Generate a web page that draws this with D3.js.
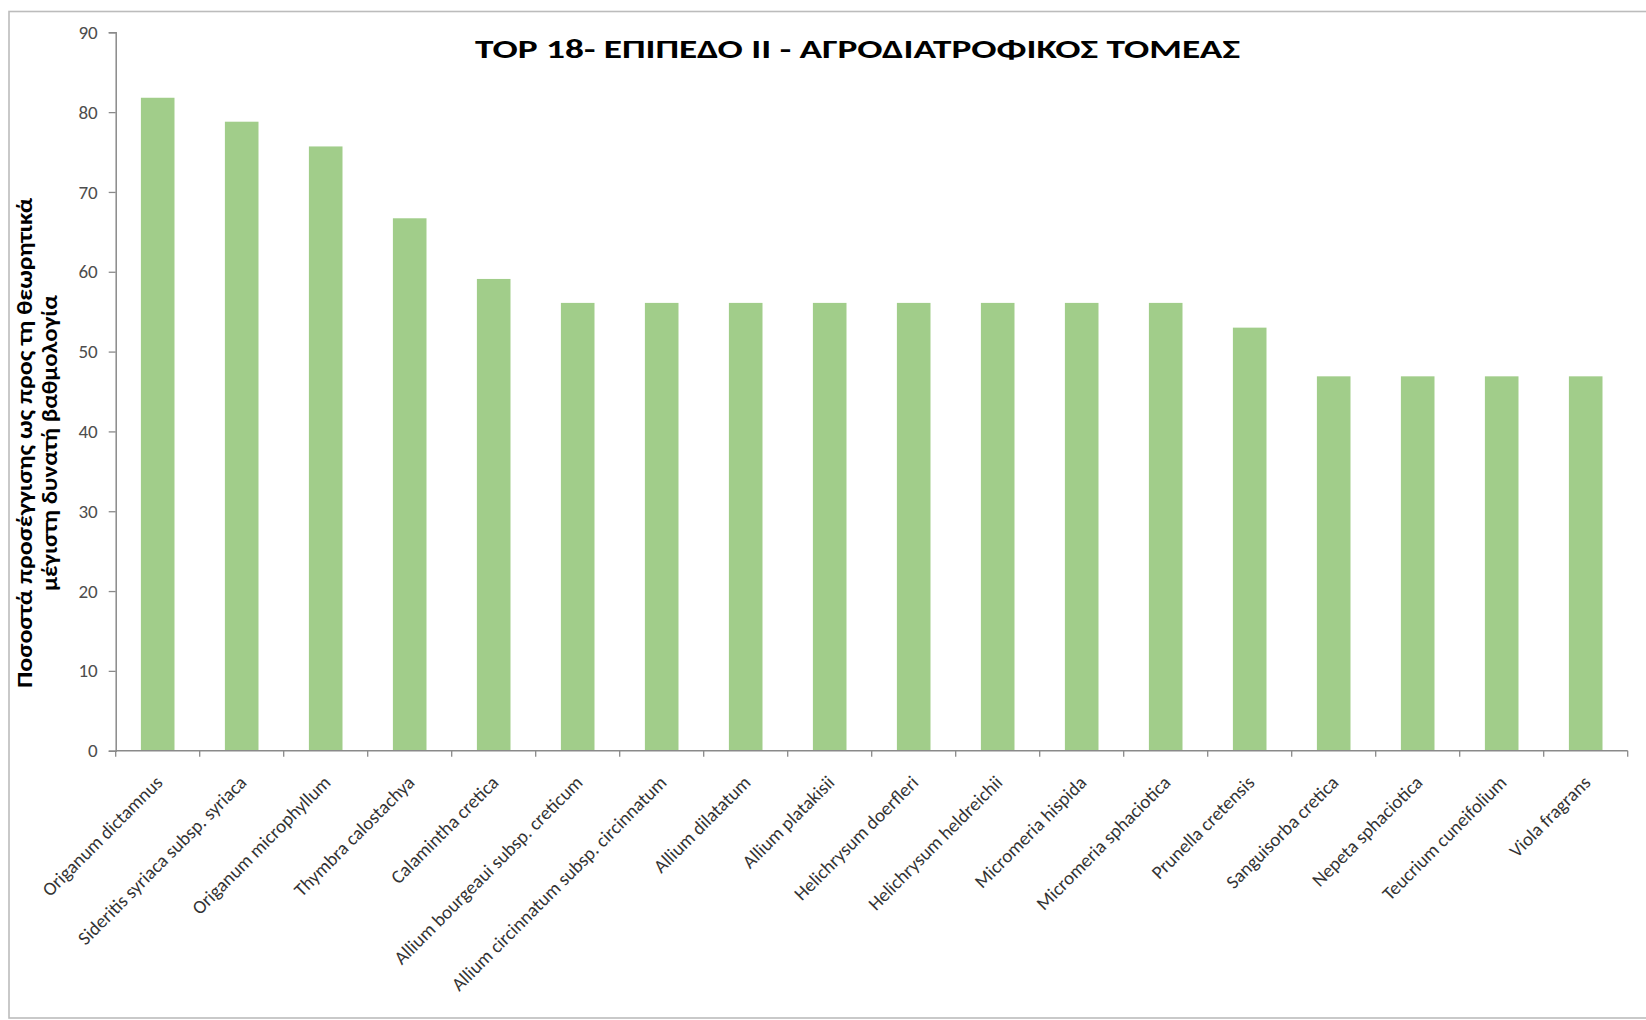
<!DOCTYPE html>
<html>
<head>
<meta charset="utf-8">
<script src="https://cdn.jsdelivr.net/npm/d3@7"></script>
<style>
  html, body { margin: 0; padding: 0; background: #ffffff; }
  svg { display: block; }
  text { font-family: Carlito, Calibri, "Open Sans", "Noto Sans", sans-serif; }
</style>
</head>
<body>
<svg id="chart" width="1646" height="1020"></svg>
<script>
// Plant species ranked by score
const species = [
  "Origanum dictamnus",
  "Sideritis syriaca subsp. syriaca",
  "Origanum microphyllum",
  "Thymbra calostachya",
  "Calamintha  cretica",
  "Allium bourgeaui subsp. creticum",
  "Allium circinnatum subsp. circinnatum",
  "Allium dilatatum",
  "Allium platakisii",
  "Helichrysum doerfleri",
  "Helichrysum heldreichii",
  "Micromeria hispida",
  "Micromeria sphaciotica",
  "Prunella cretensis",
  "Sanguisorba cretica",
  "Nepeta sphaciotica",
  "Teucrium cuneifolium",
  "Viola fragrans"
];

// Percentage of the theoretical maximum score
const scores = [81.8, 78.8, 75.7, 66.7, 59.1, 56.1, 56.1, 56.1, 56.1, 56.1, 56.1, 56.1, 56.1, 53.0, 46.9, 46.9, 46.9, 46.9];

const yTicks = [0, 10, 20, 30, 40, 50, 60, 70, 80, 90];

const chartTitle = "TOP 18- ΕΠΙΠΕΔΟ II - ΑΓΡΟΔΙΑΤΡΟΦΙΚΟΣ ΤΟΜΕΑΣ";
const yTitleLines = ["Ποσοστά προσέγγισης ως προς τη θεωρητικά", "μέγιστη δυνατή βαθμολογία"];

const svg = d3.select("#chart");
const W = 1646, H = 1020;
const plot = { left: 115.7, right: 1627.7, top: 32.3, bottom: 750.7 };

svg.append("rect").attr("width", W).attr("height", H).attr("fill", "#ffffff");

// chart area frame
svg.append("rect")
  .attr("x", 9).attr("y", 11.5)
  .attr("width", 1660).attr("height", 1006.5)
  .attr("fill", "none")
  .attr("stroke", "#bcbcbc")
  .attr("stroke-width", 1.6);

const x = d3.scaleBand()
  .domain(species)
  .range([plot.left, plot.right])
  .paddingInner(0.6)
  .paddingOuter(0.3);

const y = d3.scaleLinear()
  .domain([0, 90])
  .range([plot.bottom, plot.top]);

// bars
svg.append("g")
  .selectAll("rect")
  .data(species.map((s, i) => ({ s, v: scores[i] })))
  .join("rect")
  .attr("x", d => x(d.s))
  .attr("y", d => y(d.v))
  .attr("width", x.bandwidth())
  .attr("height", d => y(0) - y(d.v))
  .attr("fill", "#a1cd8a");

// y axis
const yAxis = svg.append("g")
  .attr("transform", `translate(${plot.left},0)`)
  .call(d3.axisLeft(y).tickValues(yTicks).tickSize(7).tickPadding(11).tickFormat(d3.format("d")));
yAxis.select(".domain").attr("stroke", "#8a8a8a").attr("stroke-width", 1.5);
yAxis.selectAll(".tick line").attr("stroke", "#8a8a8a").attr("stroke-width", 1.3);
yAxis.selectAll(".tick text")
  .attr("fill", "#4d4d4d")
  .style("font-size", "19px")
  .style("font-family", "Carlito, Calibri, 'Open Sans', sans-serif");

// x axis: line plus ticks between categories
const step = x.step();
const tickPos = species.map(s => x(s) + x.bandwidth() / 2 - step / 2).concat([plot.right]);
const xAxis = svg.append("g");
xAxis.append("line")
  .attr("x1", plot.left).attr("x2", plot.right)
  .attr("y1", plot.bottom).attr("y2", plot.bottom)
  .attr("stroke", "#8a8a8a").attr("stroke-width", 1.5);
xAxis.selectAll("line.tk")
  .data(tickPos)
  .join("line")
  .attr("class", "tk")
  .attr("x1", d => d).attr("x2", d => d)
  .attr("y1", plot.bottom).attr("y2", plot.bottom + 6)
  .attr("stroke", "#8a8a8a").attr("stroke-width", 1.3);

// rotated category labels
xAxis.selectAll("text")
  .data(species)
  .join("text")
  .attr("transform", d => `translate(${x(d) + x.bandwidth() / 2 + 6},${plot.bottom + 33}) rotate(-45)`)
  .attr("text-anchor", "end")
  .attr("fill", "#333333")
  .style("font-size", "19px")
  .text(d => d);

// chart title
svg.append("text")
  .attr("x", 857.5).attr("y", 58)
  .attr("text-anchor", "middle")
  .attr("fill", "#000000")
  .style("font-size", "27px")
  .style("font-weight", "bold")
  .attr("textLength", 765)
  .attr("lengthAdjust", "spacingAndGlyphs")
  .text(chartTitle);

// y axis title, two lines
const yTitleLengths = [490, 296];
const yTitleBase = [32, 57];
const yTitle = svg.append("g").attr("transform", "translate(0,443) rotate(-90)");
yTitle.selectAll("text")
  .data(yTitleLines)
  .join("text")
  .attr("x", 0)
  .attr("y", (d, i) => yTitleBase[i])
  .attr("text-anchor", "middle")
  .attr("fill", "#000000")
  .style("font-size", "22px")
  .style("font-weight", "bold")
  .attr("textLength", (d, i) => yTitleLengths[i])
  .attr("lengthAdjust", "spacingAndGlyphs")
  .text(d => d);
</script>
</body>
</html>
